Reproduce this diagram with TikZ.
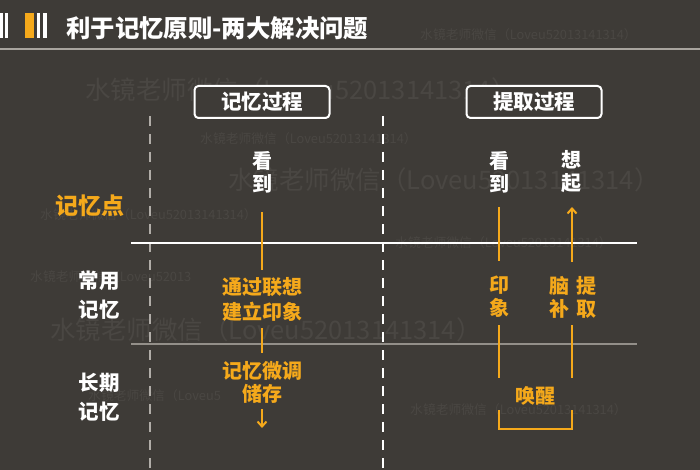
\documentclass[tikz,border=0pt]{standalone}
\usepackage{fontspec}
\setmainfont{Noto Sans CJK SC}
\usetikzlibrary{arrows.meta}
\definecolor{bg}{HTML}{3E3B37}
\definecolor{org}{HTML}{F5A91B}
\definecolor{wm}{HTML}{4A4743}
\definecolor{gl}{HTML}{A8A49E}
\begin{document}
\begin{tikzpicture}[x=1pt,y=-1pt,
  lbl/.style={font=\bfseries\fontsize{20}{23}\selectfont, align=center, inner sep=0pt},
  wl/.style={lbl,text=white},
  ol/.style={lbl,text=org},
  oline/.style={draw=org, line width=2pt},
  arr/.style={oline,-{Straight Barb[length=5pt,width=9pt,line width=2pt]}},
  dline/.style={line width=2pt, dash pattern=on 10pt off 8pt},
  box/.style={draw=white, line width=2pt, rounded corners=4pt, fill=bg, minimum width=135pt, minimum height=32pt, inner sep=0pt, text=white, font=\bfseries\fontsize{20.5}{23}\selectfont},
  wmb/.style={text=wm, font=\fontsize{25.5}{28}\selectfont, anchor=west, inner sep=0pt},
  wms/.style={text=wm, font=\fontsize{12.8}{14}\selectfont, anchor=west, inner sep=0pt}]
\useasboundingbox[fill=bg] (0,0) rectangle (700,470);
% watermarks
\node[wmb] (w1) at (85,90) {水镜老师微信（Loveu52013141314）};
\node[wmb] (w2) at (228,180) {水镜老师微信（Loveu52013141314）};
\node[wmb] (w3) at (50,330) {水镜老师微信（Loveu52013141314）};
\node[wms] (w4) at (420,35) {水镜老师微信（Loveu52013141314）};
\node[wms] (w5) at (200,139) {水镜老师微信（Loveu52013141314）};
\node[wms] (w6) at (40,215) {水镜老师微信（Loveu52013141314）};
\node[wms] (w7) at (30,277) {水镜老师微信（Loveu52013};
\node[wms] (w8) at (395,243) {水镜老师微信（Loveu52013141314）};
\node[wms] (w9) at (88,396) {水镜老师微信（Loveu5};
\node[wms] (w10) at (410,410) {水镜老师微信（Loveu52013141314）};
% title bar
\fill[white] (0,13) rectangle (3,38);
\fill[white] (5,13) rectangle (8,38);
\fill[org] (25,13) rectangle (34,38);
\fill[white] (37,13) rectangle (40,38);
\fill[white] (43,13) rectangle (47,38);
\node[anchor=west, inner sep=0pt, text=white, font=\bfseries\fontsize{24.4}{28}\selectfont] (title) at (66,28) {利于记忆原则-两大解决问题};
\coordinate (tl) at (0,49); \coordinate (tr) at (700,49);
\draw[gl, line width=2pt] (tl) -- (tr);
% dashed separators
\coordinate (d1a) at (150,116); \coordinate (d1b) at (150,470);
\coordinate (d2a) at (383,116); \coordinate (d2b) at (383,470);
\draw[dline, draw=gl!90!white] (d1a) -- (d1b);
\draw[dline, draw=white] (d2a) -- (d2b);
% horizontal rules
\coordinate (h1a) at (131,243); \coordinate (h1b) at (637,243);
\coordinate (h2a) at (131,344); \coordinate (h2b) at (637,344);
\draw[white, line width=2pt] (h1a) -- (h1b);
\draw[gl!80!bg, line width=2pt] (h2a) -- (h2b);
% boxes
\node[box] (b1) at (262,102) {记忆过程};
\node[box] (b2) at (534,102) {提取过程};
% row labels
\node[ol, font=\bfseries\fontsize{23}{26}\selectfont] (jyd) at (90,206) {记忆点};
\node[wl, font=\bfseries\fontsize{20.5}{29}\selectfont] (cy) at (99,295) {常用\\记忆};
\node[wl, font=\bfseries\fontsize{20.5}{29}\selectfont] (cq) at (99,397) {长期\\记忆};
% memory process column
\node[wl] (kd1) at (262,172) {看\\到};
\node[ol, font=\bfseries\fontsize{20}{25}\selectfont] (t1) at (262,299) {通过联想\\建立印象};
\node[ol, font=\bfseries\fontsize{20}{23}\selectfont] (t2) at (262,382) {记忆微调\\储存};
\coordinate (m1) at (262,212); \coordinate (m2) at (262,270);
\coordinate (m3) at (262,328); \coordinate (m4) at (262,353);
\coordinate (m5) at (262,409); \coordinate (m6) at (262,428);
\draw[oline] (m1) -- (m2);
\draw[oline] (m3) -- (m4);
\draw[arr] (m5) -- (m6);
% retrieval column
\node[wl] (kd2) at (499,172) {看\\到};
\node[wl] (xq) at (571,172) {想\\起};
\node[ol] (yx) at (499,297) {印\\象};
\node[ol] (nb) at (559,297) {脑\\补};
\node[ol] (tq) at (586,297) {提\\取};
\node[ol] (hx) at (535,396) {唤醒};
\coordinate (r1) at (499,207); \coordinate (r2) at (499,261);
\coordinate (s1) at (572,262); \coordinate (s2) at (572,207);
\coordinate (r3) at (499,325); \coordinate (r4) at (499,378);
\coordinate (s3) at (572,325); \coordinate (s4) at (572,378);
\coordinate (k1) at (499,410); \coordinate (k2) at (499,429);
\coordinate (k3) at (572,429); \coordinate (k4) at (572,410);
\draw[oline] (r1) -- (r2);
\draw[arr] (s1) -- (s2);
\draw[oline] (r3) -- (r4);
\draw[oline] (s3) -- (s4);
\draw[oline] (k1) -- (k2) -- (k3) -- (k4);
\end{tikzpicture}
\end{document}
